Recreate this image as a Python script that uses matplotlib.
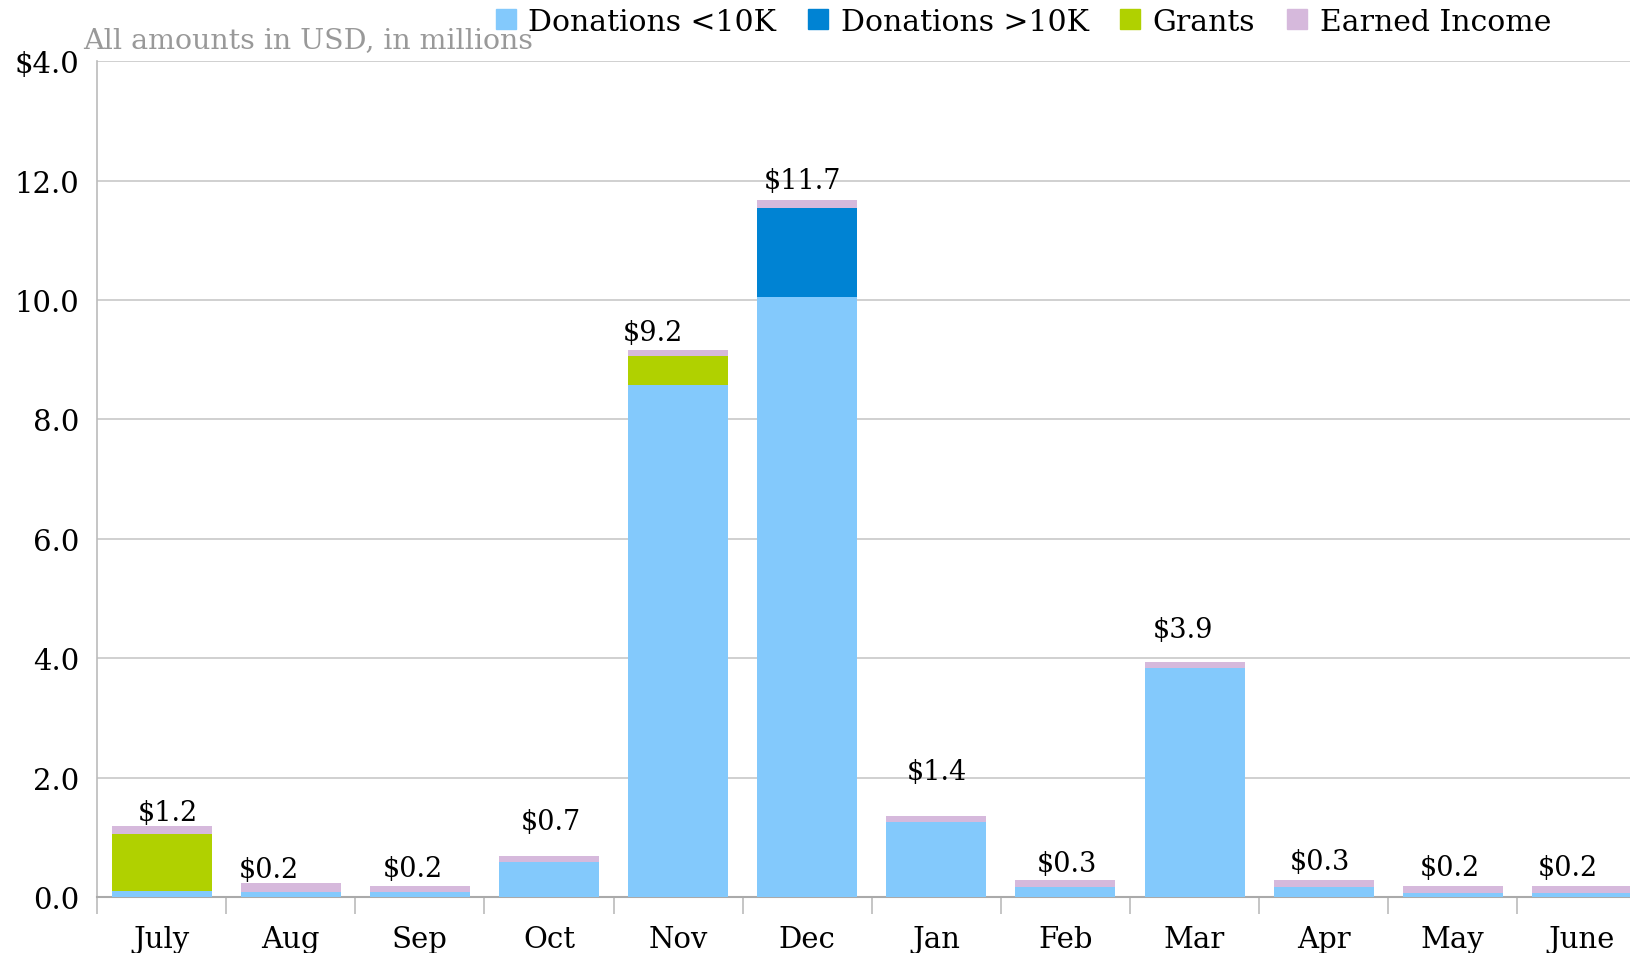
import numpy as np
import matplotlib
matplotlib.use("Agg")
import matplotlib.pyplot as plt
from matplotlib.lines import Line2D

months = ["July", "Aug", "Sep", "Oct", "Nov", "Dec", "Jan", "Feb", "Mar", "Apr", "May", "June"]
don_small = [0.10, 0.08, 0.08, 0.58, 8.57, 10.05, 1.25, 0.17, 3.83, 0.17, 0.06, 0.06]
don_large = [0.0, 0.0, 0.0, 0.0, 0.0, 1.50, 0.0, 0.0, 0.0, 0.0, 0.0, 0.0]
grants = [0.96, 0.0, 0.0, 0.0, 0.49, 0.0, 0.0, 0.0, 0.0, 0.0, 0.0, 0.0]
earned = [0.13, 0.16, 0.10, 0.11, 0.11, 0.12, 0.11, 0.12, 0.11, 0.12, 0.12, 0.12]
totals = [1.2, 0.2, 0.2, 0.7, 9.2, 11.7, 1.4, 0.3, 3.9, 0.3, 0.2, 0.2]
yticks = [0, 2, 4, 6, 8, 10, 12, 14]

series = [("Donations <10K", don_small, "#83c9fc"),
          ("Donations >10K", don_large, "#0083d3"),
          ("Grants", grants, "#b0d100"),
          ("Earned Income", earned, "#d6b9dc")]

# label nudges in pixels (dx, dy above bar top)
lab_dx = [6, -22, -7, 2, -25, -5, 1, 1, -12, -4, -3, -14]
lab_dy = [13, 13, 18, 34, 17, 20, 44, 16, 32, 18, 19, 19]

plt.rcParams['font.family'] = ['DejaVu Serif']
fig = plt.figure(figsize=(16.31, 9.54), dpi=100)
ax = fig.add_axes([0.0595, 0.0587, 0.9405, 0.876])

x = np.arange(len(months))
bottom = np.zeros(len(months))
for name, vals, col in series:
    ax.bar(x, vals, 0.775, bottom=bottom, color=col, label=name, zorder=3)
    bottom += np.array(vals)

for i, t in enumerate(totals):
    ax.annotate("$%.1f" % t, (x[i], bottom[i]), xytext=(lab_dx[i], lab_dy[i]),
                textcoords="offset pixels", ha="center", va="center", fontsize=19.5, zorder=5)

ax.set_xlim(-0.5, 11.38)
ax.set_ylim(0, 14)
ax.set_yticks(yticks)
ax.set_yticklabels(["%.1f" % v for v in yticks], fontsize=21)
ax.yaxis.grid(True, color="#c8c8c8", lw=1.2, zorder=0)
ax.tick_params(axis="y", length=0, pad=13)
ax.set_xticks(x)
ax.set_xticklabels(months, fontsize=21)
ax.tick_params(axis="x", length=0, pad=20)
ax.set_xticks(np.arange(-0.5, 11.5, 1), minor=True)
ax.tick_params(axis="x", which="minor", length=12, color="#bbbbbb", width=1.2)
for s in ["top", "right"]:
    ax.spines[s].set_visible(False)
ax.spines["left"].set_color("#bbbbbb")
ax.spines["bottom"].set_color("#aaaaaa")
ax.spines["bottom"].set_linewidth(1.5)
ax.spines["left"].set_linewidth(1.2)

fig.text(0.051, 0.957, "All amounts in USD, in millions", color="#999999", fontsize=20.5, va="center")

handles = [Line2D([], [], marker="s", ls="", markersize=15, color=c) for _, _, c in series]
fig.legend(handles, [n for n, _, _ in series], loc="center", bbox_to_anchor=(0.626, 0.976), ncol=4,
           frameon=False, fontsize=21.5, handletextpad=0.25, columnspacing=0.9, handlelength=1.0)

# "$" drawn over the "1" of the top tick label, as in the source
fig.canvas.draw()
top_lab = ax.get_yticklabels()[-1]
bb = top_lab.get_window_extent()
fig.text(bb.x0 / fig.bbox.width, (bb.y0 + bb.y1) / 2 / fig.bbox.height, "$",
         ha="left", va="center", fontsize=21,
         bbox=dict(facecolor="white", edgecolor="none", pad=0.0))

fig.savefig("out.png", dpi=100)
